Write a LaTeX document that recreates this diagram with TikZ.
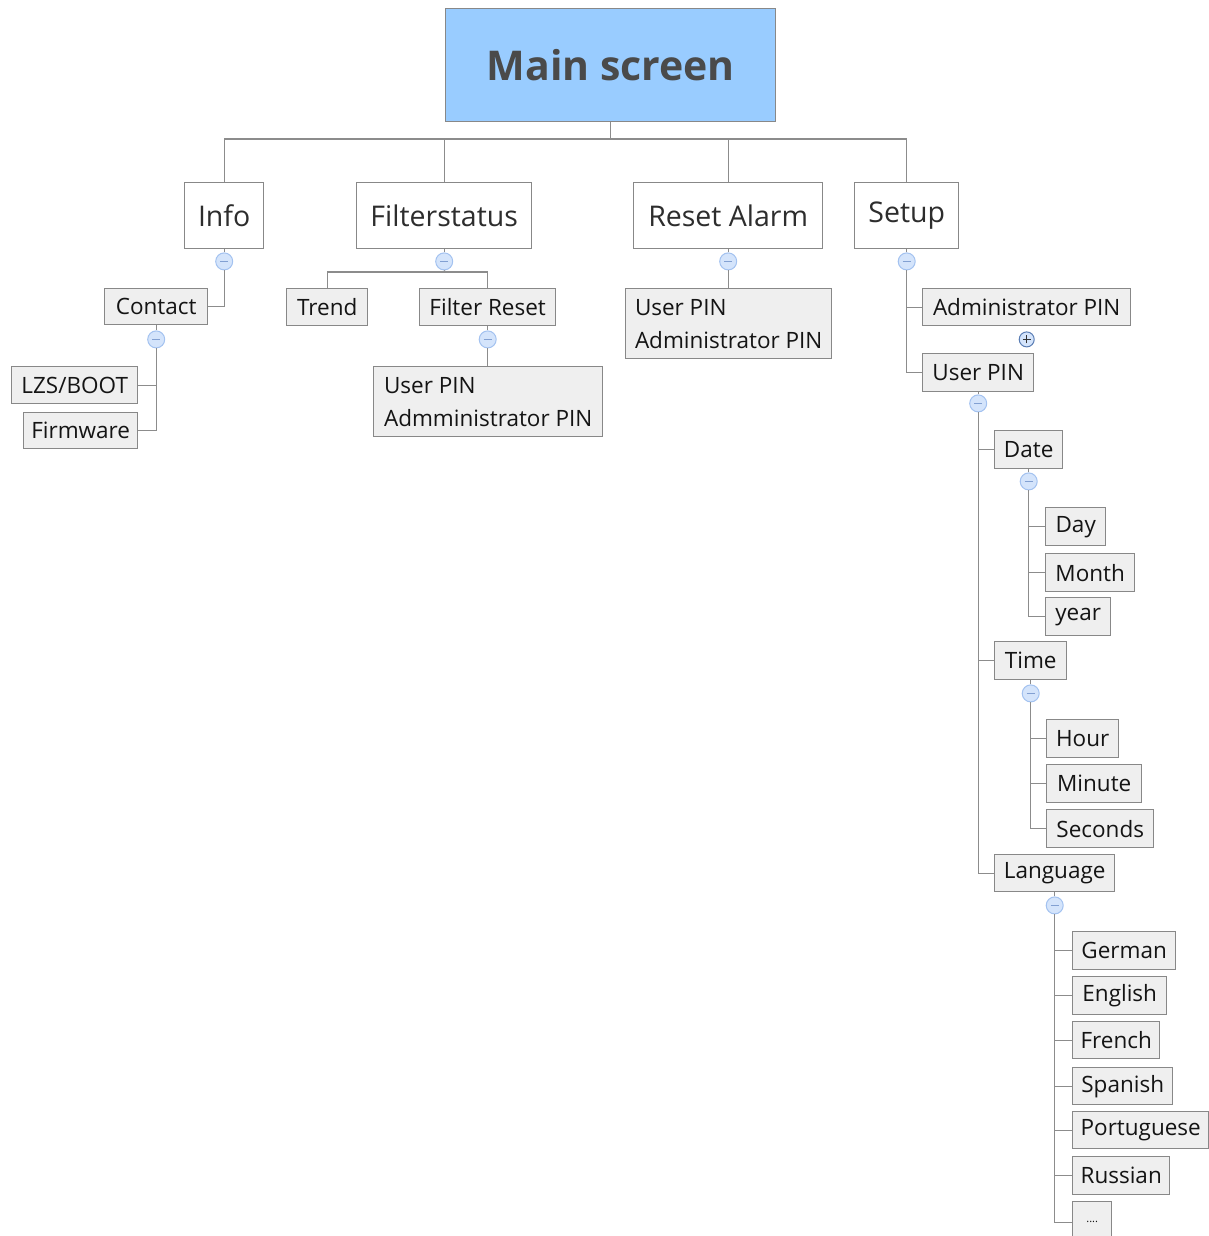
\documentclass[tikz,border=0pt]{standalone}
\usepackage{fontspec}
\setmainfont{Open Sans}
\definecolor{mainfill}{RGB}{153,204,255}
\definecolor{edge}{RGB}{136,136,136}
\definecolor{wire}{RGB}{140,140,140}
\definecolor{leaffill}{RGB}{239,239,239}
\definecolor{maintext}{RGB}{74,74,74}
\definecolor{toptext}{RGB}{45,45,45}
\definecolor{leaftext}{RGB}{20,20,20}
\definecolor{knobfill}{RGB}{212,228,251}
\definecolor{knobedge}{RGB}{163,194,240}
\definecolor{knobmark}{RGB}{130,160,210}
\definecolor{plusedge}{RGB}{90,125,180}
\begin{document}
\begin{tikzpicture}[x=1pt,y=-1pt,
  wirestyle/.style={draw=wire, line width=1.4pt},
  mainbox/.style={draw=edge, line width=1.4pt, fill=mainfill, anchor=north west, inner sep=0pt,
    text=maintext, font=\fontsize{41}{49}\selectfont\bfseries},
  topbox/.style={draw=edge, line width=1.4pt, fill=white, anchor=north west, inner sep=0pt,
    text=toptext, font=\fontsize{28.5}{34}\selectfont},
  leafbox/.style={draw=edge, line width=1.4pt, fill=leaffill, anchor=north west, inner sep=0pt,
    text=leaftext, font=\fontsize{22.5}{33}\selectfont},
  knob/.style={circle, draw=knobedge, line width=1pt, fill=knobfill, minimum size=17pt, inner sep=0pt,
    path picture={\draw[knobmark, line width=1pt]
      ([xshift=-4pt]path picture bounding box.center) -- ([xshift=4pt]path picture bounding box.center);}},
  plusknob/.style={circle, draw=plusedge, line width=1pt, fill=knobfill, minimum size=15pt, inner sep=0pt,
    path picture={\draw[black!80, line width=1pt]
      ([xshift=-4pt]path picture bounding box.center) -- ([xshift=4pt]path picture bounding box.center)
      ([yshift=-4pt]path picture bounding box.center) -- ([yshift=4pt]path picture bounding box.center);}}
]
\useasboundingbox (0,0) rectangle (1209,1236);
\clip (0,0) rectangle (1209,1236);

% root
\node[mainbox, minimum width=330pt, minimum height=113pt] (main) at (445,8) {Main screen};

% first level
\node[topbox, minimum width=79pt,  minimum height=66pt] (info)   at (184,182) {Info};
\node[topbox, minimum width=175pt, minimum height=66pt] (filter) at (356,182) {Filterstatus};
\node[topbox, minimum width=189pt, minimum height=66pt] (reset)  at (633,182) {Reset Alarm};
\node[topbox, minimum width=104pt, minimum height=66pt] (setup)  at (854,182) {Setup};

% Info branch
\node[leafbox, minimum width=103pt, minimum height=36pt] (contact) at (104,288) {Contact};
\node[leafbox, minimum width=126pt, minimum height=37pt] (lzs)     at (11,366)  {LZS/BOOT};
\node[leafbox, minimum width=114pt, minimum height=36pt] (firm)    at (23,412)  {Firmware};

% Filterstatus branch
\node[leafbox, minimum width=81pt,  minimum height=37pt] (trend)  at (286,288) {Trend};
\node[leafbox, minimum width=136pt, minimum height=37pt] (freset) at (419,288) {Filter Reset};
\node[leafbox, minimum width=229pt, minimum height=70pt, align=left] (fpins) at (373,366)
  {User PIN\\Admministrator PIN};

% Reset Alarm branch
\node[leafbox, minimum width=206pt, minimum height=70pt, align=left] (rpins) at (625,288)
  {User PIN\\Administrator PIN};

% Setup branch
\node[leafbox, minimum width=208pt, minimum height=37pt] (adminpin) at (922,288) {Administrator PIN};
\node[leafbox, minimum width=111pt, minimum height=38pt] (userpin)  at (922,353) {User PIN};
\node[leafbox, minimum width=68pt,  minimum height=38pt] (date)     at (994,430) {Date};
\node[leafbox, minimum width=60pt,  minimum height=38pt] (day)      at (1045,507) {Day};
\node[leafbox, minimum width=89pt,  minimum height=38pt] (month)    at (1045,553) {Month};
\node[leafbox, minimum width=65pt,  minimum height=38pt] (year)     at (1045,597) {year};
\node[leafbox, minimum width=72pt,  minimum height=38pt] (time)     at (994,641)  {Time};
\node[leafbox, minimum width=72pt,  minimum height=38pt] (hour)     at (1046,719) {Hour};
\node[leafbox, minimum width=95pt,  minimum height=38pt] (minute)   at (1046,764) {Minute};
\node[leafbox, minimum width=107pt, minimum height=38pt] (seconds)  at (1046,809) {Seconds};
\node[leafbox, minimum width=120pt, minimum height=37pt] (lang)     at (994,854)  {Language};
\node[leafbox, minimum width=103pt, minimum height=38pt] (german)   at (1072,931)  {German};
\node[leafbox, minimum width=94pt,  minimum height=38pt] (english)  at (1072,976)  {English};
\node[leafbox, minimum width=87pt,  minimum height=37pt] (french)   at (1072,1021) {French};
\node[leafbox, minimum width=100pt, minimum height=37pt] (spanish)  at (1072,1067) {Spanish};
\node[leafbox, minimum width=136pt, minimum height=37pt] (portug)   at (1072,1111) {Portuguese};
\node[leafbox, minimum width=97pt,  minimum height=38pt] (russian)  at (1072,1156) {Russian};
\node[leafbox, minimum width=39pt,  minimum height=40pt, font=\fontsize{11}{13}\selectfont] (more) at (1072,1201) {....};

% collapse knobs, hanging just below their boxes
\node[knob] (infoK)    at ([yshift=-12pt]info.south) {};
\node[knob] (filterK)  at ([yshift=-12pt]filter.south) {};
\node[knob] (resetK)   at ([yshift=-12pt]reset.south) {};
\node[knob] (setupK)   at ([yshift=-12pt]setup.south) {};
\node[knob] (contactK) at ([yshift=-14pt]contact.south) {};
\node[knob] (fresetK)  at ([yshift=-13pt]freset.south) {};
\node[plusknob] (adminK) at ([yshift=-13pt]adminpin.south) {};
\node[knob] (userpinK) at ([yshift=-11pt]userpin.south) {};
\node[knob] (dateK)    at ([yshift=-12pt]date.south) {};
\node[knob] (timeK)    at ([yshift=-13pt]time.south) {};
\node[knob] (langK)    at ([yshift=-13pt]lang.south) {};

% connectors
\coordinate (mbar) at (610,139);
\coordinate (fbar) at (445,272);
\begin{scope}[wirestyle]
  \draw (main.south) -- (main.south |- mbar);
  \draw (info.north) |- (mbar);
  \draw (filter.north) |- (mbar);
  \draw (reset.north) |- (mbar);
  \draw (setup.north) |- (mbar);

  \draw (info.south) -- (infoK.north);
  \draw (filter.south) -- (filterK.north);
  \draw (reset.south) -- (resetK.north);
  \draw (setup.south) -- (setupK.north);
  \draw (contact.south) -- (contactK.north);
  \draw (freset.south) -- (fresetK.north);
  \draw (userpin.south) -- (userpinK.north);
  \draw (date.south) -- (dateK.north);
  \draw (time.south) -- (timeK.north);
  \draw (lang.south) -- (langK.north);

  \draw (infoK.south) |- (contact.east);
  \draw (contactK.south) |- (lzs.east);
  \draw (contactK.south) |- (firm.east);

  \draw (filterK.south) -- (fbar);
  \draw (trend.north) |- (fbar);
  \draw (freset.north) |- (fbar);
  \draw (fresetK.south) -- (fresetK.south |- fpins.north);

  \draw (resetK.south) -- (resetK.south |- rpins.north);

  \draw (setupK.south) |- (adminpin.west);
  \draw (setupK.south) |- (userpin.west);

  \draw (userpinK.south) |- (date.west);
  \draw (userpinK.south) |- (time.west);
  \draw (userpinK.south) |- (lang.west);

  \draw (dateK.south) |- (day.west);
  \draw (dateK.south) |- (month.west);
  \draw (dateK.south) |- (year.west);

  \draw (timeK.south) |- (hour.west);
  \draw (timeK.south) |- (minute.west);
  \draw (timeK.south) |- (seconds.west);

  \draw (langK.south) |- (german.west);
  \draw (langK.south) |- (english.west);
  \draw (langK.south) |- (french.west);
  \draw (langK.south) |- (spanish.west);
  \draw (langK.south) |- (portug.west);
  \draw (langK.south) |- (russian.west);
  \draw (langK.south) |- ([yshift=-1pt]more.west);
\end{scope}
\end{tikzpicture}
\end{document}
